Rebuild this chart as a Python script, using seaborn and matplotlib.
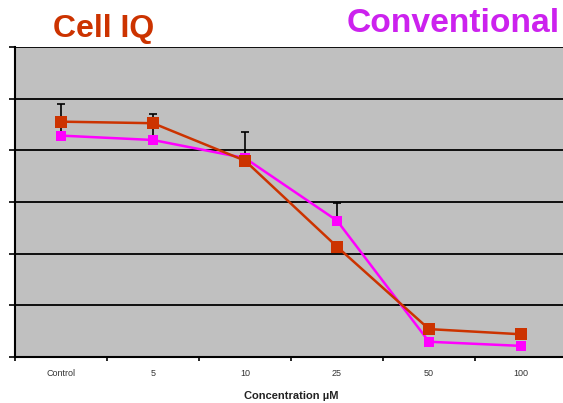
import numpy as np
import pandas as pd
import matplotlib.pyplot as plt
import seaborn as sns

# data (y scale 0-120, 6 gridline bands)
concentrations = ['Control', '5', '10', '25', '50', '100']
cell_iq = [91.1, 90.5, 76.0, 42.7, 10.8, 8.8]
conventional = [85.7, 84.0, 77.0, 52.8, 5.9, 4.3]
conventional_err = [12.4, 10.1, 10.1, 7.0, 0.0, 0.0]

red = '#CC3300'
pink = '#FF00FF'

sns.set_style('white')
plt.rcParams['font.family'] = ['Liberation Sans', 'DejaVu Sans']

fig = plt.figure(figsize=(5.63, 4.03), dpi=100)
ax = fig.add_axes([15/563, 1-357/403, 552/563, 310/403])
ax.set_facecolor('#C0C0C0')

x = np.arange(len(concentrations))
df = pd.DataFrame({'x': np.concatenate([x, x]),
                   'y': cell_iq + conventional,
                   'series': ['Cell IQ']*6 + ['Conventional']*6})

# error bars (upper only) behind the lines
ax.errorbar(x, conventional, yerr=[np.zeros(6), conventional_err],
            fmt='none', ecolor='black', elinewidth=1.2, capsize=3, capthick=1.2, zorder=2)

sns.lineplot(data=df[df.series == 'Conventional'], x='x', y='y', color=pink,
             marker='s', markersize=7, markeredgewidth=0, linewidth=1.8, ax=ax, zorder=3)
sns.lineplot(data=df[df.series == 'Cell IQ'], x='x', y='y', color=red,
             marker='s', markersize=8.5, markeredgewidth=0, linewidth=1.8, ax=ax, zorder=4)

ax.set_xlim(-0.5, 5.5)
ax.set_ylim(0, 120)
ax.set_yticks(np.arange(0, 121, 20))
ax.set_yticklabels([])
ax.yaxis.grid(True, color='black', linewidth=1.3)
ax.set_axisbelow(True)

ax.set_xticks(x)
ax.set_xticklabels(concentrations, fontsize=6.5, color='#333333')
ax.set_xticks(np.arange(-0.5, 6, 1), minor=True)
ax.tick_params(axis='x', which='major', length=0, pad=9)
ax.tick_params(axis='x', which='minor', length=3, width=1.2, color='black', direction='out', bottom=True)
ax.tick_params(axis='y', length=4, width=1.2, color='black', direction='out', left=True)

for s in ['top', 'right']:
    ax.spines[s].set_visible(False)
for s in ['left', 'bottom']:
    ax.spines[s].set_color('black')
    ax.spines[s].set_linewidth(1.5)

ax.set_xlabel('Concentration µM', fontsize=8, fontweight='bold', color='#222222', labelpad=9)
ax.set_ylabel('')

fig.text(104/563, 1-29/403, 'Cell IQ', color=red, fontsize=23, fontweight='bold',
         ha='center', va='center')
fig.text(347/563, 1-24/403, 'Conventional', color='#CC22EE', fontsize=24.2, fontweight='bold',
         ha='left', va='center')

fig.savefig('out.png', dpi=100)
